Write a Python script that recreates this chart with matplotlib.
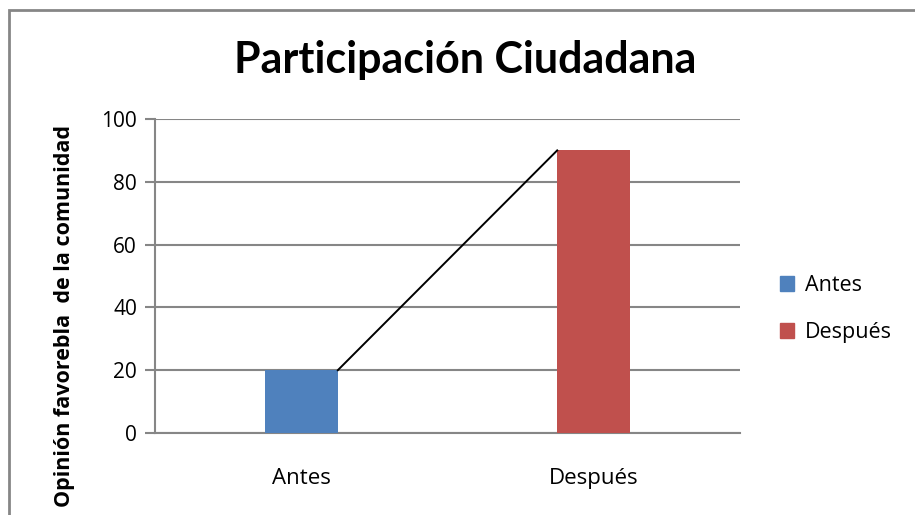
import matplotlib.pyplot as plt
from matplotlib.patches import Rectangle, Patch

categories = ["Antes", "Después"]
values = [20, 90]
colors = ["#4F81BD", "#C0504D"]
y_ticks = [0, 20, 40, 60, 80, 100]

plt.rcParams['font.family'] = ['Open Sans', 'DejaVu Sans']

fig = plt.figure(figsize=(9.15, 5.15), dpi=100)
ax = fig.add_axes([155 / 915, 1 - 433 / 515, 585 / 915, 314 / 515])

# outer chart border (Excel style)
fig.patches.append(Rectangle((9 / 915, -0.05), 1.1, 1 - 10 / 515 + 0.05,
                             transform=fig.transFigure, fill=False,
                             edgecolor="#868686", linewidth=2))

x = list(range(len(categories)))
width = 0.25
ax.bar(x, values, width=width, color=colors, zorder=3)

# connecting line from top right of first bar to top left of second
ax.plot([x[0] + width / 2, x[1] - width / 2], [values[0], values[1]],
        color="black", linewidth=1.4, zorder=4)

ax.set_xlim(-0.5, len(categories) - 0.5)
ax.set_ylim(0, 100)
ax.set_yticks(y_ticks)
ax.set_xticks(x)
ax.set_xticklabels(categories)
ax.yaxis.grid(True, color="#868686", linewidth=1.5, zorder=0)
ax.set_axisbelow(True)
for s in ["top", "right"]:
    ax.spines[s].set_visible(False)
for s in ["left", "bottom"]:
    ax.spines[s].set_color("#868686")
    ax.spines[s].set_linewidth(1.5)
ax.tick_params(axis="y", length=7, width=1.5, color="#868686", labelsize=15, pad=6)
ax.tick_params(axis="x", length=0, labelsize=16, pad=25)

ax.set_ylabel("Opinión favorebla  de la comunidad", fontsize=15.5, fontweight="bold")
ax.yaxis.set_label_coords(-0.137, 0.373)

fig.text(0.508, 0.883, "Participación Ciudadana", ha="center", va="center",
         fontsize=31, fontweight="bold", family=["Lato", "DejaVu Sans"])

handles = [Patch(color=c) for c in colors]
fig.legend(handles, categories, loc="center left", bbox_to_anchor=(0.834, 0.400),
           frameon=False, fontsize=15.5, handlelength=0.65, handleheight=0.65,
           handletextpad=0.5, labelspacing=1.2, borderpad=0.3)

fig.savefig("out.png", dpi=100)
